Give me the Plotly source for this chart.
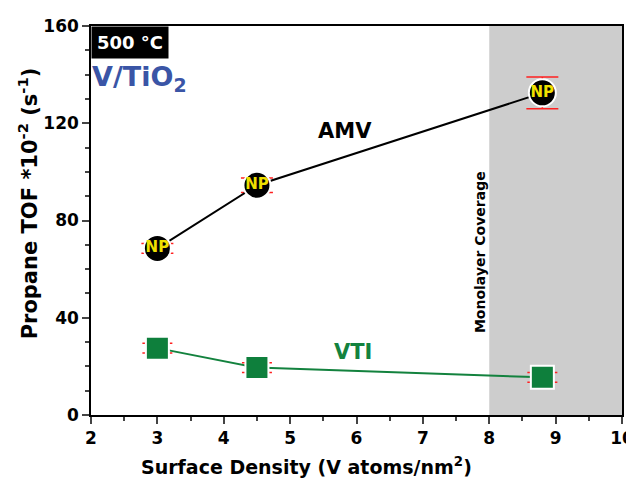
import plotly.graph_objects as go

density = [3.0, 4.5, 8.8]
amv_tof = [68.5, 94.5, 132.5]
amv_err = [2.0, 3.0, 6.5]
vti_tof = [27.5, 19.5, 15.5]
vti_err = [2.0, 2.0, 2.0]

x_ticks = [2, 3, 4, 5, 6, 7, 8, 9, 10]
x_labels = ["2", "3", "4", "5", "6", "7", "8", "9", "10"]
y_ticks = [0, 40, 80, 120, 160]
y_labels = ["0", "40", "80", "120", "160"]

FONT = "DejaVu Sans, Verdana, sans-serif"

fig = go.Figure()

fig.add_shape(type="rect", xref="x", yref="paper", x0=8, x1=10, y0=0, y1=1,
              fillcolor="#cdcdcd", line=dict(width=0), layer="below")

fig.add_trace(go.Scatter(
    x=density, y=vti_tof, mode="lines+markers",
    line=dict(color="#13823e", width=2),
    marker=dict(symbol="square", size=23, color="#0e7f3c", line=dict(color="white", width=2)),
    error_y=dict(type="data", array=vti_err, color="#ff2020", thickness=1.5, width=15),
    showlegend=False, hoverinfo="x+y"))

fig.add_trace(go.Scatter(
    x=density, y=amv_tof, mode="lines+markers+text",
    line=dict(color="black", width=2),
    marker=dict(symbol="circle", size=27, color="black", line=dict(color="white", width=2)),
    error_y=dict(type="data", array=amv_err, color="#ff2020", thickness=1.5, width=16),
    text=["<b>NP</b>"] * len(density), textposition="middle center",
    textfont=dict(family=FONT, size=15, color="#f0e000"),
    showlegend=False, hoverinfo="x+y"))

fig.add_annotation(x=5.82, y=117, text="<b>AMV</b>", showarrow=False,
                   font=dict(family=FONT, size=21, color="black"))
fig.add_annotation(x=5.94, y=26, text="<b>VTI</b>", showarrow=False,
                   font=dict(family=FONT, size=21, color="#13823e"))
fig.add_annotation(x=7.86, y=67, text="<b>Monolayer Coverage</b>", showarrow=False,
                   textangle=-90, font=dict(family=FONT, size=14, color="black"))
fig.add_annotation(xref="paper", yref="paper", x=0, y=1, xanchor="left", yanchor="top",
                   text="<b>500 °C</b>", showarrow=False, bgcolor="black",
                   borderpad=5, font=dict(family=FONT, size=18, color="white"))
fig.add_annotation(xref="paper", yref="paper", x=-0.002, y=0.865, xanchor="left", yanchor="middle",
                   text="<b>V/TiO<sub>2</sub></b>", showarrow=False,
                   font=dict(family=FONT, size=27, color="#3a55a6"))

fig.add_annotation(xref="paper", yref="paper", x=0.405, y=-0.13, xanchor="center", yanchor="middle",
                   text="<b>Surface Density (V atoms/nm<sup>2</sup>)</b>", showarrow=False,
                   font=dict(family=FONT, size=19, color="black"))
fig.add_annotation(xref="paper", yref="paper", x=-0.118, y=0.545, xanchor="center", yanchor="middle",
                   text="<b>Propane TOF *10<sup>-2</sup> (s<sup>-1</sup>)</b>", showarrow=False,
                   textangle=-90, font=dict(family=FONT, size=21, color="black"))

fig.update_xaxes(range=[2, 10], tickmode="array", tickvals=x_ticks,
                 ticktext=["<b>%s</b>" % t for t in x_labels],
                 ticks="outside", ticklen=7, tickwidth=1.5,
                 minor=dict(dtick=0.5, ticks="outside", ticklen=4, tickwidth=1.5),
                 showline=True, linecolor="black", linewidth=1.5, mirror=True,
                 showgrid=False, zeroline=False, automargin=False,
                 tickfont=dict(family=FONT, size=17, color="black"))
fig.update_yaxes(range=[0, 160], tickmode="array", tickvals=y_ticks,
                 ticktext=["<b>%s</b>" % t for t in y_labels],
                 ticks="outside", ticklen=7, tickwidth=1.5,
                 minor=dict(dtick=10, ticks="outside", ticklen=4, tickwidth=1.5),
                 showline=True, linecolor="black", linewidth=1.5, mirror=True,
                 showgrid=False, zeroline=False, automargin=False,
                 tickfont=dict(family=FONT, size=17, color="black"))

# the page body adds an 8px offset, so the figure is sized to fit the window
fig.update_layout(width=626, height=472, margin=dict(l=83, r=12, t=18, b=65),
                  plot_bgcolor="white", paper_bgcolor="white")

fig.write_html("out.html")
